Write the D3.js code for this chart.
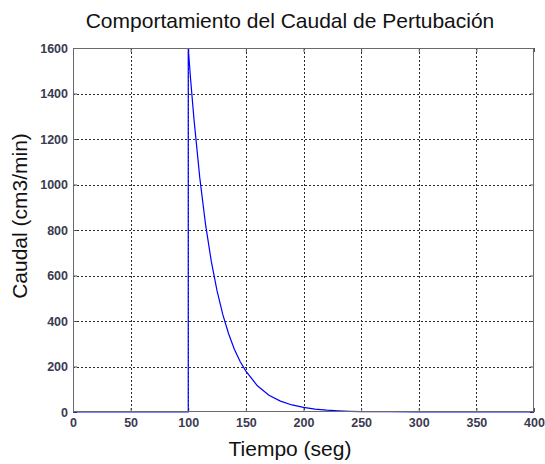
<!DOCTYPE html>
<html>
<head>
<meta charset="utf-8">
<script src="https://cdn.jsdelivr.net/npm/d3@7"></script>
<style>
  html, body { margin: 0; padding: 0; background: #fff; }
  svg { display: block; }
</style>
</head>
<body>
<svg id="chart" width="545" height="464"></svg>
<script>
// Data
const timeValues = [0, 50, 100, 100, 102, 105, 110, 115, 120, 125, 130, 135, 140, 145, 150, 160, 170, 180, 190, 200, 210, 220, 230, 240, 250, 275, 300, 350, 400];
const flowValues = [0, 0, 0, 1600, 1465, 1285, 1030, 825, 662, 532, 428, 344, 276, 222, 180, 115, 74, 48, 31, 20, 13, 8, 5, 3, 2, 1, 0, 0, 0];
const xTicks = [0, 50, 100, 150, 200, 250, 300, 350, 400];
const yTicks = [0, 200, 400, 600, 800, 1000, 1200, 1400, 1600];
const titleText = "Comportamiento del Caudal de Pertubación";
const xLabel = "Tiempo (seg)";
const yLabel = "Caudal (cm3/min)";

const data = timeValues.map((t, i) => ({ t, q: flowValues[i] }));

const svg = d3.select("#chart");
const L = 73, R = 534, T = 48, B = 412;

const x = d3.scaleLinear().domain([0, 400]).range([L, R]);
const y = d3.scaleLinear().domain([0, 1600]).range([B, T]);

const font = "'Liberation Sans', Arial, Helvetica, sans-serif";

// Plot background
svg.append("rect").attr("x", L).attr("y", T).attr("width", R - L).attr("height", B - T).attr("fill", "#fff");

// Grid
const grid = svg.append("g").attr("stroke", "#2a2a2a").attr("stroke-width", 1).attr("stroke-dasharray", "2,2");
grid.selectAll("line.vx").data(xTicks.slice(1, -1)).join("line")
  .attr("x1", d => Math.round(x(d)) + 0.5).attr("x2", d => Math.round(x(d)) + 0.5)
  .attr("y1", T).attr("y2", B);
grid.selectAll("line.hy").data(yTicks.slice(1, -1)).join("line")
  .attr("y1", d => Math.round(y(d)) + 0.5).attr("y2", d => Math.round(y(d)) + 0.5)
  .attr("x1", L).attr("x2", R);

// Axes (bottom and left with labels, inward ticks)
const xAxis = d3.axisBottom(x).tickValues(xTicks).tickSize(-4).tickPadding(6).tickFormat(d3.format("d"));
const yAxis = d3.axisLeft(y).tickValues(yTicks).tickSize(-4).tickPadding(5).tickFormat(d3.format("d"));
const xTop = d3.axisTop(x).tickValues(xTicks).tickSize(-4).tickFormat("");
const yRight = d3.axisRight(y).tickValues(yTicks).tickSize(-4).tickFormat("");

function styleAxis(g) {
  g.select(".domain").remove();
  g.selectAll(".tick line").attr("stroke", "#555");
  g.selectAll("text").attr("fill", "#3a3a50").style("font-family", font)
    .style("font-size", "12.5px").style("font-weight", "bold");
}

svg.append("g").attr("transform", `translate(0,${B})`).call(xAxis).call(styleAxis);
svg.append("g").attr("transform", `translate(${L},0)`).call(yAxis).call(styleAxis);
svg.append("g").attr("transform", `translate(0,${T})`).call(xTop).call(styleAxis);
svg.append("g").attr("transform", `translate(${R},0)`).call(yRight).call(styleAxis);

// Line
const line = d3.line().x(d => x(d.t)).y(d => y(d.q)).curve(d3.curveMonotoneX);
svg.append("path").datum(data)
  .attr("fill", "none").attr("stroke", "#0000ff").attr("stroke-width", 1.2)
  .attr("d", d3.line().x(d => x(d.t)).y(d => y(d.q)));

// Box
svg.append("rect").attr("x", L + 0.5).attr("y", T + 0.5).attr("width", R - L - 1).attr("height", B - T - 1)
  .attr("fill", "none").attr("stroke", "#6a6a6a").attr("stroke-width", 1);

// Title and labels
svg.append("text").attr("x", 290).attr("y", 28).attr("text-anchor", "middle")
  .style("font-family", font).style("font-size", "21px").attr("fill", "#111").text(titleText);
svg.append("text").attr("x", 290).attr("y", 456).attr("text-anchor", "middle")
  .style("font-family", font).style("font-size", "21px").attr("fill", "#111").text(xLabel);
svg.append("text").attr("transform", `translate(27,216) rotate(-90)`).attr("text-anchor", "middle")
  .style("font-family", font).style("font-size", "21px").attr("fill", "#111").text(yLabel);
</script>
</body>
</html>
